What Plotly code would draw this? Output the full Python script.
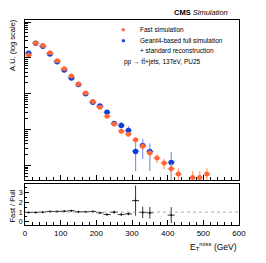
import plotly.graph_objects as go

# ---- data ----
bin_centers_fast = [10, 30, 50, 70, 90, 110, 130, 150, 170, 190, 210, 230, 250, 270, 290,
                    310, 330, 350, 370, 390, 410, 430, 470, 490, 510]
fast_values = [0.0121, 0.0256, 0.0220, 0.0138, 0.00826, 0.00495, 0.00310, 0.00186, 0.00104,
               0.00061, 0.000416, 0.000234, 0.000142, 8.97e-5, 7.4e-5, 5.18e-5, 3.44e-5,
               2.2e-5, 1.6e-5, 1.16e-5, 8.1e-6, 5.7e-6, 4.55e-6, 4.55e-6, 5.7e-6]
fast_errors = [0.0002, 0.0003, 0.0003, 0.0002, 0.00012, 0.00008, 0.00006, 0.00004, 0.00003,
               0.00002, 0.000018, 0.000014, 0.000012, 0.00001, 0.0000095, 0.000008, 0.0000065,
               0.0000052, 0.0000044, 0.0000037, 0.0000031, 0.0000026, 0.0000023, 0.0000023,
               0.0000026]

bin_centers_full = [10, 30, 50, 70, 90, 110, 130, 150, 170, 190, 210, 230, 250, 270, 290,
                    310, 330, 350, 410]
full_values = [0.0135, 0.0256, 0.0209, 0.0129, 0.0078, 0.0046, 0.00273, 0.0018, 0.00100,
               0.00058, 0.00045, 0.000303, 0.000147, 0.000129, 9.38e-5, 2.45e-5, 3.6e-5,
               2.45e-5, 1.21e-5]
full_err_up = [0.0002, 0.0003, 0.0003, 0.0002, 0.00013, 0.00009, 0.00007, 0.00005, 0.00004,
               0.00003, 0.000028, 0.000024, 0.000018, 0.00003, 0.00003, 2.8e-5, 1.9e-5,
               1.6e-5, 1.2e-5]
full_err_down = [0.0002, 0.0003, 0.0003, 0.0002, 0.00013, 0.00009, 0.00007, 0.00005, 0.00004,
                 0.00003, 0.000028, 0.000024, 0.000018, 0.00002, 0.000021, 1.75e-5, 2.1e-5,
                 1.75e-5, 1.15e-5]

ratio_centers = [10, 30, 50, 70, 90, 110, 130, 150, 170, 190, 210, 230, 250, 270, 290,
                 310, 330, 350, 410]
ratio_values = [0.97, 0.97, 1.0, 1.07, 1.07, 1.1, 1.14, 1.03, 1.03, 1.07, 0.93, 0.75, 1.0,
                0.75, 0.82, 2.19, 0.97, 0.93, 0.69]
ratio_errors = [0.03, 0.03, 0.03, 0.04, 0.04, 0.04, 0.05, 0.05, 0.06, 0.07, 0.08, 0.09, 0.15,
                0.12, 0.13, 1.55, 0.6, 0.6, 0.83]

bin_half_width = 10
x_tick_vals = [0, 100, 200, 300, 400, 500, 600]
ratio_tick_vals = [0, 1, 2, 3]

legend_fast = "Fast simulation"
legend_full = "Geant4-based full simulation"
legend_full2 = "+ standard reconstruction"
process_label = "pp → tt̄+jets, 13TeV, PU25"

FONT = "Liberation Sans, Arial, sans-serif"
ORANGE = "#ff6633"
ORANGE_ERR = "#ff9a78"
BLUE = "#0b3fd9"
BLUE_ERR = "#7f9be8"

fig = go.Figure()

fig.add_trace(go.Scatter(
    x=bin_centers_full, y=full_values, mode="markers", name=legend_full,
    marker=dict(color=BLUE, size=5.5),
    error_y=dict(type="data", array=full_err_up, arrayminus=full_err_down, symmetric=False,
                 color=BLUE_ERR, thickness=1.2, width=0),
    error_x=dict(type="constant", value=bin_half_width, color=BLUE_ERR, thickness=1.2, width=0),
    xaxis="x", yaxis="y",
))
fig.add_trace(go.Scatter(
    x=bin_centers_fast, y=fast_values, mode="markers", name=legend_fast,
    marker=dict(color=ORANGE, size=5),
    error_y=dict(type="data", array=fast_errors, color=ORANGE_ERR, thickness=1.2, width=0),
    error_x=dict(type="constant", value=bin_half_width, color=ORANGE_ERR, thickness=1.2, width=0),
    xaxis="x", yaxis="y",
))

fig.add_trace(go.Scatter(
    x=ratio_centers, y=ratio_values, mode="markers",
    marker=dict(color="black", size=2),
    error_y=dict(type="data", array=ratio_errors, color="black", thickness=0.8, width=0),
    error_x=dict(type="constant", value=bin_half_width, color="black", thickness=0.8, width=0),
    xaxis="x2", yaxis="y2",
))

fig.add_shape(type="line", xref="x2", yref="y2", x0=0, x1=600, y0=1, y1=1,
              line=dict(color="#999999", width=0.8, dash="dot"))

axis_common = dict(showline=True, linecolor="black", linewidth=1, mirror=True,
                   ticks="inside", tickcolor="black", showgrid=False, zeroline=False)

# page body adds an 8px offset; margins compensate
fig.update_layout(
    width=258, height=255,
    margin=dict(l=17, r=27, t=12, b=38),
    paper_bgcolor="white", plot_bgcolor="white",
    font=dict(family=FONT, size=8, color="black"),
    showlegend=False,
    xaxis=dict(domain=[0, 1], range=[0, 600], anchor="y", matches="x2",
               showticklabels=False, tickvals=x_tick_vals, ticklen=5,
               minor=dict(ticks="inside", dtick=20, ticklen=3, tickcolor="black"),
               **axis_common),
    yaxis=dict(domain=[0.218, 1], type="log", range=[-5.417, -0.944], anchor="x",
               showticklabels=False, dtick=1, ticklen=6,
               minor=dict(ticks="inside", dtick="D1", ticklen=3, tickcolor="black"),
               **axis_common),
    xaxis2=dict(domain=[0, 1], range=[0, 600], anchor="y2",
                tickvals=x_tick_vals, ticklen=5, tickfont=dict(size=8),
                minor=dict(ticks="inside", dtick=20, ticklen=3, tickcolor="black"),
                **axis_common),
    yaxis2=dict(domain=[0, 0.202], range=[-0.33, 3.95], anchor="x2",
                tickvals=ratio_tick_vals, ticklen=4, tickfont=dict(size=7),
                minor=dict(ticks="inside", dtick=0.5, ticklen=2, tickcolor="black"),
                **axis_common),
)

def note(text, x, y, size=6.5, color="black", xanchor="left", **kw):
    fig.add_annotation(text=text, xref="paper", yref="paper", x=x, y=y, xanchor=xanchor,
                       yanchor="middle", showarrow=False, font=dict(size=size, color=color), **kw)

note("●", 0.458, 0.956, size=7.5, color=ORANGE, xanchor="center")
note(legend_fast, 0.528, 0.956)
note("●", 0.458, 0.898, size=7.5, color=BLUE, xanchor="center")
note(legend_full, 0.528, 0.898)
note(legend_full2, 0.528, 0.849)
note(process_label, 0.453, 0.796)

fig.add_annotation(text="<b>CMS</b> <i>Simulation</i>", xref="paper", yref="paper",
                   x=0.958, y=1.039, xanchor="right", yanchor="middle",
                   showarrow=False, font=dict(size=7.5))
fig.add_annotation(text="A.U. (log scale)", xref="paper", yref="paper",
                   x=0, xshift=-12, y=1.015, xanchor="center", yanchor="top", textangle=-90,
                   showarrow=False, font=dict(size=7.5))
fig.add_annotation(text="Fast / Full", xref="paper", yref="paper",
                   x=0, xshift=-12, y=0.09, xanchor="center", yanchor="middle", textangle=-90,
                   showarrow=False, font=dict(size=7.5))
fig.add_annotation(text="E<sub>T</sub><sup>miss</sup> (GeV)", xref="paper", yref="paper",
                   x=1.0, y=0, yshift=-14, xanchor="right", yanchor="top",
                   showarrow=False, font=dict(size=8.5))

fig.write_html("out.html")
